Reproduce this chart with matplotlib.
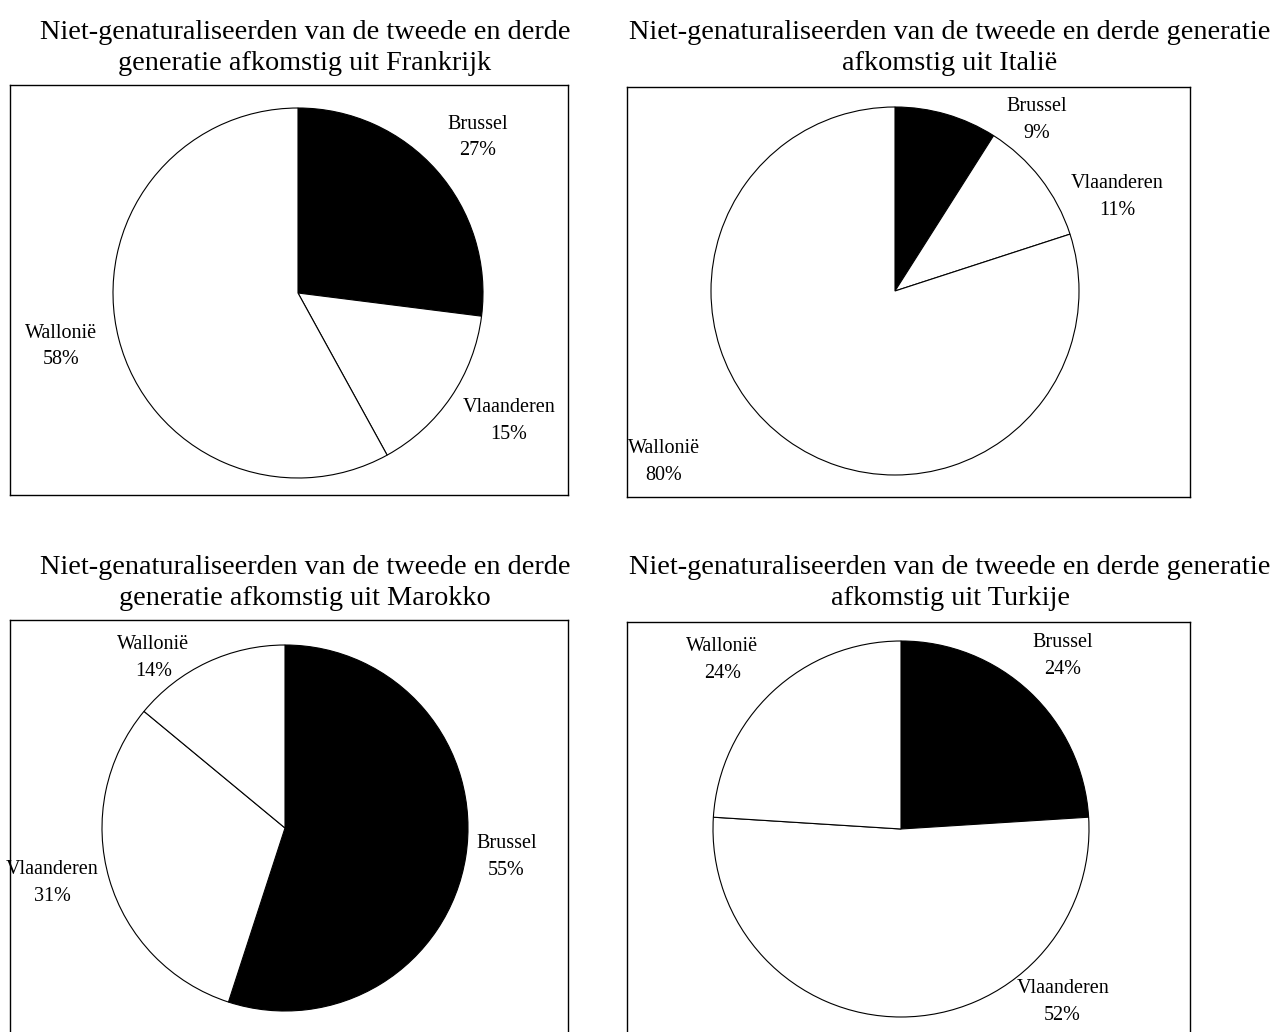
import matplotlib.pyplot as plt

plt.rcParams['font.family'] = ['Liberation Serif', 'DejaVu Serif']

# data (percent)
regions = ["Brussel", "Vlaanderen", "Wallonië"]
frankrijk = [27, 15, 58]
italie = [9, 11, 80]
marokko = [55, 31, 14]
turkije = [24, 52, 24]
titles = [
    "Niet-genaturaliseerden van de tweede en derde\ngeneratie afkomstig uit Frankrijk",
    "Niet-genaturaliseerden van de tweede en derde generatie\nafkomstig uit Italië",
    "Niet-genaturaliseerden van de tweede en derde\ngeneratie afkomstig uit Marokko",
    "Niet-genaturaliseerden van de tweede en derde generatie\nafkomstig uit Turkije",
]
slice_colors = ["black", "white", "white"]

W, H = 1279, 1032
fig = plt.figure(figsize=(W / 100, H / 100), dpi=100)
fig.patch.set_facecolor('white')

# layout in pixels: box (x0, y0, x1, y1), pie centre, radius, title centre
layout = [
    dict(box=(10, 85, 568, 495), c=(298, 293), r=185, t=(305, 48)),
    dict(box=(627, 87, 1190, 497), c=(895, 291), r=184, t=(950, 48)),
    dict(box=(10, 620, 568, 1045), c=(285, 828), r=183, t=(305, 583)),
    dict(box=(627, 622, 1190, 1045), c=(901, 829), r=188, t=(950, 583)),
]
# label positions in units of the pie radius, relative to the centre
label_pos = [
    [(0.97, 0.84), (1.14, -0.69), (-1.28, -0.29)],
    [(0.77, 0.93), (1.21, 0.51), (-1.255, -0.93)],
    [(1.21, -0.16), (-1.27, -0.30), (-0.72, 0.93)],
    [(0.86, 0.92), (0.86, -0.92), (-0.95, 0.90)],
]

for vals, title, lay, lpos in zip([frankrijk, italie, marokko, turkije], titles, layout, label_pos):
    x0, y0, x1, y1 = lay['box']
    cx, cy = lay['c']
    r = lay['r']
    ax = fig.add_axes([x0 / W, 1 - y1 / H, (x1 - x0) / W, (y1 - y0) / H])
    ax.pie(vals, colors=slice_colors, startangle=90, counterclock=False, radius=1,
           frame=True, wedgeprops=dict(edgecolor='black', linewidth=0.8))
    ax.set_xlim((x0 - cx) / r, (x1 - cx) / r)
    ax.set_ylim((cy - y1) / r, (cy - y0) / r)
    ax.set_aspect('auto')
    ax.set_xticks([])
    ax.set_yticks([])
    for s in ax.spines.values():
        s.set_linewidth(1.0)
        s.set_color('black')
    for name, v, (lx, ly) in zip(regions, vals, lpos):
        ax.text(lx, ly, f"{name}\n{v}%", ha='center', va='center', fontsize=14.5,
                linespacing=1.55, clip_on=False)
    tx, ty = lay['t']
    fig.text(tx / W, 1 - ty / H, title, ha='center', va='center', fontsize=20.3, linespacing=1.32)

fig.savefig('out.png', dpi=100)
